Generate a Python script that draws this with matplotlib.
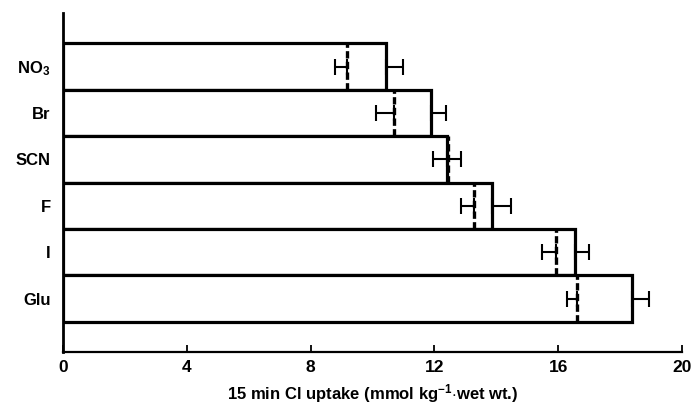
import matplotlib
matplotlib.use("Agg")
import matplotlib.pyplot as plt
import numpy as np

plt.rcParams['font.family'] = ['Liberation Sans', 'DejaVu Sans']
plt.rcParams['mathtext.fontset'] = 'custom'
plt.rcParams['mathtext.rm'] = 'Liberation Sans:bold'
plt.rcParams['mathtext.it'] = 'Liberation Sans:bold'
plt.rcParams['mathtext.bf'] = 'Liberation Sans:bold'

categories = ['NO$_3$', 'Br', 'SCN', 'F', 'I', 'Glu']
bar_values = [10.45, 11.88, 12.42, 13.85, 16.54, 18.4]
bar_err = [0.52, 0.48, 0.43, 0.64, 0.47, 0.54]
dashed_values = [9.18, 10.69, 12.45, 13.28, 15.93, 16.62]
dashed_err = [0.40, 0.57, 0.50, 0.41, 0.45, 0.35]
xticks = [0, 4, 8, 12, 16, 20]

fig = plt.figure(figsize=(6.96, 4.12), dpi=100)
ax = fig.add_axes([63/696, 60/412, (682-63)/696, (399.3-60)/412])

n = len(categories)
ypos = np.arange(n)[::-1]  # NO3 at top

ax.barh(ypos, bar_values, height=1.0, color='white', edgecolor='black',
        linewidth=2.3, zorder=2)
# one-sided error to the right of bars
ax.errorbar(bar_values, ypos, xerr=[np.zeros(n), bar_err], fmt='none',
            ecolor='black', elinewidth=1.5, capsize=5.5, capthick=1.5, zorder=3)
# dashed lines
for y, v in zip(ypos, dashed_values):
    ax.plot([v, v], [y - 0.5, y + 0.5], color='black', linewidth=2.4,
            linestyle=(0, (2.2, 1.0)), zorder=3)
ax.errorbar(dashed_values, ypos, xerr=[dashed_err, np.zeros(n)], fmt='none',
            ecolor='black', elinewidth=1.5, capsize=5.5, capthick=1.5, zorder=3)

ax.set_xlim(0, 20)
ax.set_ylim(-1.15, n - 0.5 + 0.66)
ax.set_xticks(xticks)
ax.set_xticklabels([str(t) for t in xticks], fontsize=12.5, fontweight='bold')
ax.set_yticks(ypos)
ax.set_yticklabels(categories, fontsize=12, fontweight='bold')
ax.tick_params(axis='y', length=0, pad=9)
ax.tick_params(axis='x', direction='in', length=5, width=1.3, pad=6)
for s in ['top', 'right']:
    ax.spines[s].set_visible(False)
ax.spines['left'].set_linewidth(2.0)
ax.spines['bottom'].set_linewidth(1.6)
ax.set_xlabel(r'15 min Cl uptake (mmol kg$^{-1}$$\cdot$wet wt.)', fontsize=12,
              fontweight='bold', labelpad=5)

fig.savefig('out.png', dpi=100)
